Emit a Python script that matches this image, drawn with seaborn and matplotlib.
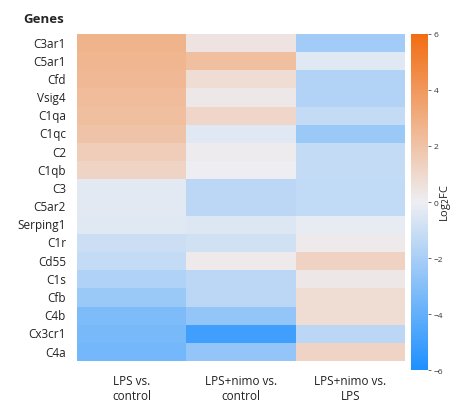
import numpy as np
import pandas as pd
import seaborn as sns
import matplotlib
matplotlib.use("Agg")
import matplotlib.pyplot as plt
from matplotlib.colors import LinearSegmentedColormap

genes = ["C3ar1", "C5ar1", "Cfd", "Vsig4", "C1qa", "C1qc", "C2", "C1qb", "C3",
         "C5ar2", "Serping1", "C1r", "Cd55", "C1s", "Cfb", "C4b", "Cx3cr1", "C4a"]
comparisons = ["LPS vs.\ncontrol", "LPS+nimo vs.\ncontrol", "LPS+nimo vs.\nLPS"]

lps_vs_control = [2.7, 2.6, 2.5, 2.3, 2.2, 2.0, 1.5, 1.2, -0.3,
                  -0.3, -0.4, -1.0, -1.2, -1.8, -2.4, -3.2, -3.4, -3.5]
nimo_vs_control = [0.5, 2.2, 0.8, 0.3, 1.1, -0.4, 0.1, 0.0, -1.5,
                   -1.5, -0.5, -0.8, 0.2, -1.5, -1.5, -2.6, -5.0, -2.6]
nimo_vs_lps = [-2.2, -0.4, -1.7, -1.7, -1.2, -2.4, -1.2, -1.2, -1.3,
               -1.3, -0.2, 0.2, 1.3, 0.3, 0.8, 0.8, -1.5, 1.2]

df = pd.DataFrame({comparisons[0]: lps_vs_control,
                   comparisons[1]: nimo_vs_control,
                   comparisons[2]: nimo_vs_lps}, index=genes)

sns.set_theme(style="white")
plt.rcParams["font.family"] = ["Open Sans", "DejaVu Sans"]

cmap = LinearSegmentedColormap.from_list(
    "fc", ["#1E90FF", "#EEEEF2", "#F26D12"])

fig = plt.figure(figsize=(4.53, 4.06), dpi=100)
ax = fig.add_axes([0.170, 0.108, 0.724, 0.806])
cax = fig.add_axes([0.907, 0.086, 0.038, 0.828])

sns.heatmap(df, ax=ax, cbar_ax=cax, cmap=cmap, vmin=-6, vmax=6,
            cbar_kws={"ticks": [-6, -4, -2, 0, 2, 4, 6]})

ax.tick_params(axis="y", length=2, width=0.6, color="#555555",
               labelsize=8.5, pad=6, labelcolor="#222222")
ax.tick_params(axis="x", length=2, width=0.6, color="#555555",
               labelsize=8.5, pad=7, labelcolor="#222222")
ax.set_yticklabels(genes, rotation=0)
ax.set_xticklabels(comparisons, rotation=0, linespacing=1.25)
ax.set_xlabel("")
ax.set_ylabel("")

cax.tick_params(length=2, width=0.6, labelsize=6, color="#555555", pad=2,
                labelcolor="#333333")
cax.set_yticklabels(["\u22126", "\u22124", "\u22122", "0", "2", "4", "6"])
cax.set_ylabel("Log$_2$FC", fontsize=8, color="#222222")
cax.yaxis.set_label_coords(1.55, 0.5)
for s in cax.spines.values():
    s.set_visible(False)

fig.text(0.051, 0.951, "Genes", fontsize=9.5, fontweight="bold",
         ha="left", va="center")

fig.savefig("out.png", dpi=100)
